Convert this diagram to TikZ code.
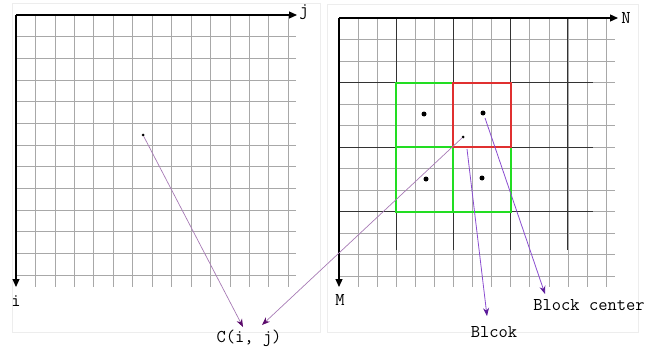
\documentclass[tikz,border=0pt]{standalone}
\usetikzlibrary{arrows.meta}
\definecolor{gridgray}{HTML}{A8A8A8}
\definecolor{lightpurple}{HTML}{A77BB5}
\definecolor{darkpurple}{HTML}{5B0A6B}
\definecolor{violetline}{HTML}{8A4CD0}
\definecolor{violethead}{HTML}{5B1A9A}
\definecolor{greenbox}{HTML}{22DD22}
\definecolor{redbox}{HTML}{E03030}
\begin{document}
\begin{tikzpicture}[x=1pt,y=-1pt,
  frame/.style={draw=black!7,line width=0.6pt},
  fine/.style={draw=gridgray,line width=0.45pt},
  coarse/.style={draw=black!80,line width=1pt},
  axis/.style={draw=black,line width=1.2pt,-{Triangle[length=8pt,width=7pt]}},
  gblk/.style={draw=greenbox,line width=2pt,line cap=rect},
  rblk/.style={draw=redbox,line width=2pt,line cap=rect},
  lbl/.style={font=\ttfamily\fontsize{18}{18}\selectfont,inner sep=0pt},
  bigdot/.style={circle,fill=black,inner sep=0pt,minimum size=5pt},
  smalldot/.style={circle,fill=black,inner sep=0pt,minimum size=3pt},
  carrow/.style={draw=lightpurple,line width=0.7pt,-{Stealth[length=8pt,width=6pt,color=darkpurple]}},
  barrow/.style={draw=violetline,line width=0.8pt,-{Stealth[length=8pt,width=6pt,color=violethead]}}]
\useasboundingbox (0,0) rectangle (663,356);
% panel frames
\draw[frame] (12,3) rectangle (320,332);
\draw[frame] (327,4) rectangle (638,332);
% left fine grid
\foreach \k in {1,...,14} {\draw[fine] ({16+\k*19.43},15) -- ({16+\k*19.43},287);}
\foreach \k in {1,...,12} {\draw[fine] (16,{15+\k*21.67}) -- (296,{15+\k*21.67});}
\draw[axis] (16,15) -- (297,15);
\draw[axis] (16,15) -- (16,287);
\node[lbl] (jl) at (304,12) {j};
\node[lbl] (il) at (16,301) {i};
% right fine grid
\foreach \k in {1,...,14} {\draw[fine] ({339+\k*19.07},18) -- ({339+\k*19.07},287);}
\foreach \k in {1,...,12} {\draw[fine] (339,{18+\k*21.5}) -- (615,{18+\k*21.5});}
% coarse block lines
\foreach \k in {1,...,4} {\draw[coarse] ({339+\k*57.2},18) -- ({339+\k*57.2},250);}
\foreach \k in {1,...,3} {\draw[coarse] (339,{18+\k*64.5}) -- (593,{18+\k*64.5});}
\draw[axis] (339,18) -- (618,18);
\draw[axis] (339,18) -- (339,287);
\node[lbl] (nl) at (626,18) {N};
\node[lbl] (ml) at (340,300) {M};
% dots
\node[smalldot] (p1) at (143,135) {};
\node[smalldot] (p2) at (463,137) {};
\node[bigdot] (c1) at (424,114) {};
\node[bigdot] (c2) at (483,113) {};
\node[bigdot] (c3) at (426,179) {};
\node[bigdot] (c4) at (482,178) {};
% labels
\node[lbl] (cij) at (249,338) {C(i, j)};
\node[lbl] (blcok) at (494,332) {Blcok};
\node[lbl] (bcen) at (589,305) {Block center};
% blocks (green), then the red block on top
\draw[gblk] (396,82.5) -- (453,82.5);
\draw[gblk] (396,82.5) -- (396,211.5);
\draw[gblk] (396,147) -- (453,147);
\draw[gblk] (396,211.5) -- (511,211.5);
\draw[gblk] (453,147) -- (453,211.5);
\draw[gblk] (511,147) -- (511,211.5);
\draw[rblk] (453,82.5) -- (511,82.5);
\draw[rblk] (511,82.5) -- (511,147);
\draw[rblk] (453,82.5) -- (453,147);
\draw[rblk] (453,147) -- (511,147);
% arrow tips
\coordinate (t1) at (243,327);
\coordinate (t2) at (262,325);
\coordinate (t3) at (487,316);
\coordinate (t4) at (545,294);
\coordinate (s3) at (467,149);
\coordinate (s4) at (485,118);
\draw[carrow] (p1) -- (t1);
\draw[carrow] (p2) -- (t2);
\draw[barrow] (s3) -- (t3);
\draw[barrow] (s4) -- (t4);
\end{tikzpicture}
\end{document}
